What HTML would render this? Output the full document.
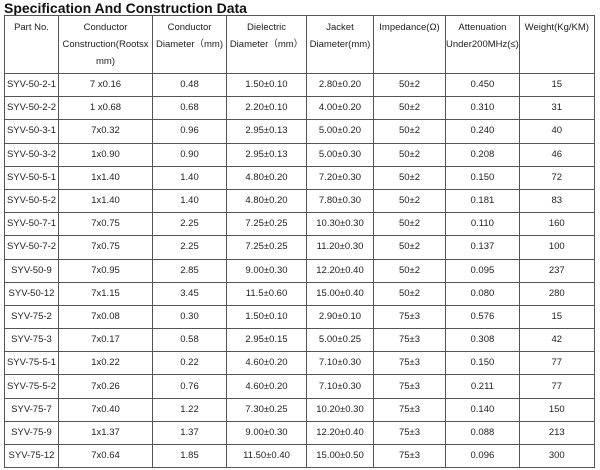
<!DOCTYPE html>
<html><head><style>
body{margin:0;width:600px;height:470px;background:#fff;overflow:hidden;font-family:"Liberation Sans",sans-serif;}
.t{position:absolute;left:4px;top:0px;font-weight:bold;font-size:14px;color:#111;line-height:16px;}
table{position:absolute;left:4px;top:15px;border-collapse:collapse;table-layout:fixed;}
td{border:1px solid #555;font-size:9.5px;color:#222;text-align:center;height:22.2px;padding:0;white-space:nowrap;overflow:hidden;line-height:12px;}
tr.h td{height:54px;vertical-align:top;line-height:17px;padding-top:3px;}
</style></head><body>
<div class="t">Specification And Construction Data</div>
<table>
<colgroup><col style="width:54px"><col style="width:94px"><col style="width:74px"><col style="width:80px"><col style="width:67px"><col style="width:72px"><col style="width:73px"><col style="width:75px"></colgroup>
<tr class="h"><td>Part No.</td><td>Conductor<br>Construction(Rootsx<br>mm)</td><td>Conductor<br>Diameter（mm)</td><td>Dielectric<br>Diameter（mm）</td><td>Jacket<br>Diameter(mm)</td><td>Impedance(Ω)</td><td>Attenuation<br>Under200MHz(≤)</td><td>Weight(Kg/KM)</td></tr>
<tr><td>SYV-50-2-1</td><td>7 x0.16</td><td>0.48</td><td>1.50±0.10</td><td>2.80±0.20</td><td>50±2</td><td>0.450</td><td>15</td></tr>
<tr><td>SYV-50-2-2</td><td>1 x0.68</td><td>0.68</td><td>2.20±0.10</td><td>4.00±0.20</td><td>50±2</td><td>0.310</td><td>31</td></tr>
<tr><td>SYV-50-3-1</td><td>7x0.32</td><td>0.96</td><td>2.95±0.13</td><td>5.00±0.20</td><td>50±2</td><td>0.240</td><td>40</td></tr>
<tr><td>SYV-50-3-2</td><td>1x0.90</td><td>0.90</td><td>2.95±0.13</td><td>5.00±0.30</td><td>50±2</td><td>0.208</td><td>46</td></tr>
<tr><td>SYV-50-5-1</td><td>1x1.40</td><td>1.40</td><td>4.80±0.20</td><td>7.20±0.30</td><td>50±2</td><td>0.150</td><td>72</td></tr>
<tr><td>SYV-50-5-2</td><td>1x1.40</td><td>1.40</td><td>4.80±0.20</td><td>7.80±0.30</td><td>50±2</td><td>0.181</td><td>83</td></tr>
<tr><td>SYV-50-7-1</td><td>7x0.75</td><td>2.25</td><td>7.25±0.25</td><td>10.30±0.30</td><td>50±2</td><td>0.110</td><td>160</td></tr>
<tr><td>SYV-50-7-2</td><td>7x0.75</td><td>2.25</td><td>7.25±0.25</td><td>11.20±0.30</td><td>50±2</td><td>0.137</td><td>100</td></tr>
<tr><td>SYV-50-9</td><td>7x0.95</td><td>2.85</td><td>9.00±0.30</td><td>12.20±0.40</td><td>50±2</td><td>0.095</td><td>237</td></tr>
<tr><td>SYV-50-12</td><td>7x1.15</td><td>3.45</td><td>11.5±0.60</td><td>15.00±0.40</td><td>50±2</td><td>0.080</td><td>280</td></tr>
<tr><td>SYV-75-2</td><td>7x0.08</td><td>0.30</td><td>1.50±0.10</td><td>2.90±0.10</td><td>75±3</td><td>0.576</td><td>15</td></tr>
<tr><td>SYV-75-3</td><td>7x0.17</td><td>0.58</td><td>2.95±0.15</td><td>5.00±0.25</td><td>75±3</td><td>0.308</td><td>42</td></tr>
<tr><td>SYV-75-5-1</td><td>1x0.22</td><td>0.22</td><td>4.60±0.20</td><td>7.10±0.30</td><td>75±3</td><td>0.150</td><td>77</td></tr>
<tr><td>SYV-75-5-2</td><td>7x0.26</td><td>0.76</td><td>4.60±0.20</td><td>7.10±0.30</td><td>75±3</td><td>0.211</td><td>77</td></tr>
<tr><td>SYV-75-7</td><td>7x0.40</td><td>1.22</td><td>7.30±0.25</td><td>10.20±0.30</td><td>75±3</td><td>0.140</td><td>150</td></tr>
<tr><td>SYV-75-9</td><td>1x1.37</td><td>1.37</td><td>9.00±0.30</td><td>12.20±0.40</td><td>75±3</td><td>0.088</td><td>213</td></tr>
<tr><td>SYV-75-12</td><td>7x0.64</td><td>1.85</td><td>11.50±0.40</td><td>15.00±0.50</td><td>75±3</td><td>0.096</td><td>300</td></tr>
</table>
</body></html>
